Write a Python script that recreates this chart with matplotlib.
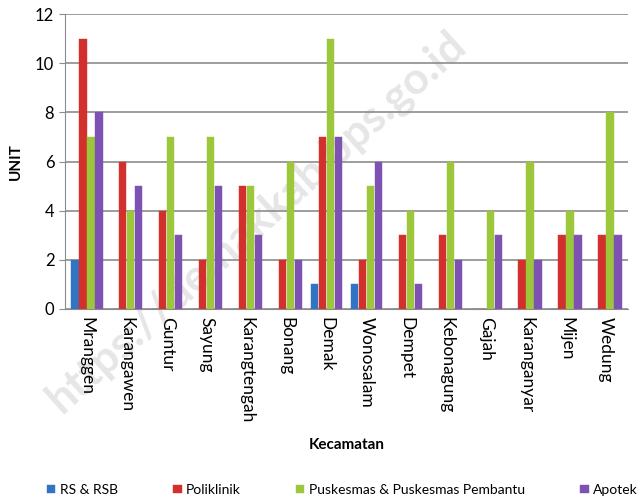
import matplotlib.pyplot as plt
import numpy as np

kecamatan = ["Mranggen", "Karangawen", "Guntur", "Sayung", "Karangtengah", "Bonang",
             "Demak", "Wonosalam", "Dempet", "Kebonagung", "Gajah", "Karanganyar",
             "Mijen", "Wedung"]
rs_rsb = [2, 0, 0, 0, 0, 0, 1, 1, 0, 0, 0, 0, 0, 0]
poliklinik = [11, 6, 4, 2, 5, 2, 7, 2, 3, 3, 0, 2, 3, 3]
puskesmas = [7, 4, 7, 7, 5, 6, 11, 5, 4, 6, 4, 6, 4, 8]
apotek = [8, 5, 3, 5, 3, 2, 7, 6, 1, 2, 3, 2, 3, 3]

series = [
    ("RS & RSB", rs_rsb, "#3274c4"),
    ("Poliklinik", poliklinik, "#d2302c"),
    ("Puskesmas & Puskesmas Pembantu", puskesmas, "#9cc73b"),
    ("Apotek", apotek, "#7d52b3"),
]

plt.rcParams['font.family'] = ['Lato', 'DejaVu Sans']

fig = plt.figure(figsize=(6.41, 5.04), dpi=100)
ax = fig.add_axes([0.101, 0.387, 0.879, 0.585])
ax.patch.set_alpha(0)

x = np.arange(len(kecamatan))
w = 0.2
for i, (name, vals, col) in enumerate(series):
    ax.bar(x + (i - 1.5) * w, vals, width=w * 0.95, color=col, label=name,
           edgecolor=col, linewidth=0.3, zorder=3)

ax.set_ylim(0, 12)
ax.set_yticks(range(0, 13, 2))
ax.set_xlim(-0.55, len(kecamatan) - 0.45)
ax.grid(axis='y', color='#8c8c8c', linewidth=1.2, zorder=0)
ax.set_xticks(x)
ax.set_xticklabels(kecamatan, rotation=270, fontsize=12.5)
ax.tick_params(axis='x', length=0, pad=6)
ax.tick_params(axis='y', labelsize=12, length=4, color='#8c8c8c')
for s in ['top', 'right']:
    ax.spines[s].set_visible(False)
ax.spines['left'].set_color('#8c8c8c')
ax.spines['bottom'].set_color('#8c8c8c')

ax.set_ylabel("UNIT", fontsize=11, fontweight='bold', labelpad=9)
ax.set_xlabel("Kecamatan", fontsize=11, fontweight='bold', labelpad=10)

fig.legend(loc='center', bbox_to_anchor=(0.534, 0.028), ncol=4, frameon=False,
           fontsize=10, handlelength=0.6, handleheight=0.6, handletextpad=0.3,
           columnspacing=4.0, borderaxespad=0)

# watermark
fig.text(0.40, 0.56, "https://demakkab.bps.go.id", fontsize=32, color='#e6e6e6',
         rotation=42, ha='center', va='center', fontweight='bold', zorder=-1)

fig.savefig("out.png", dpi=100)
